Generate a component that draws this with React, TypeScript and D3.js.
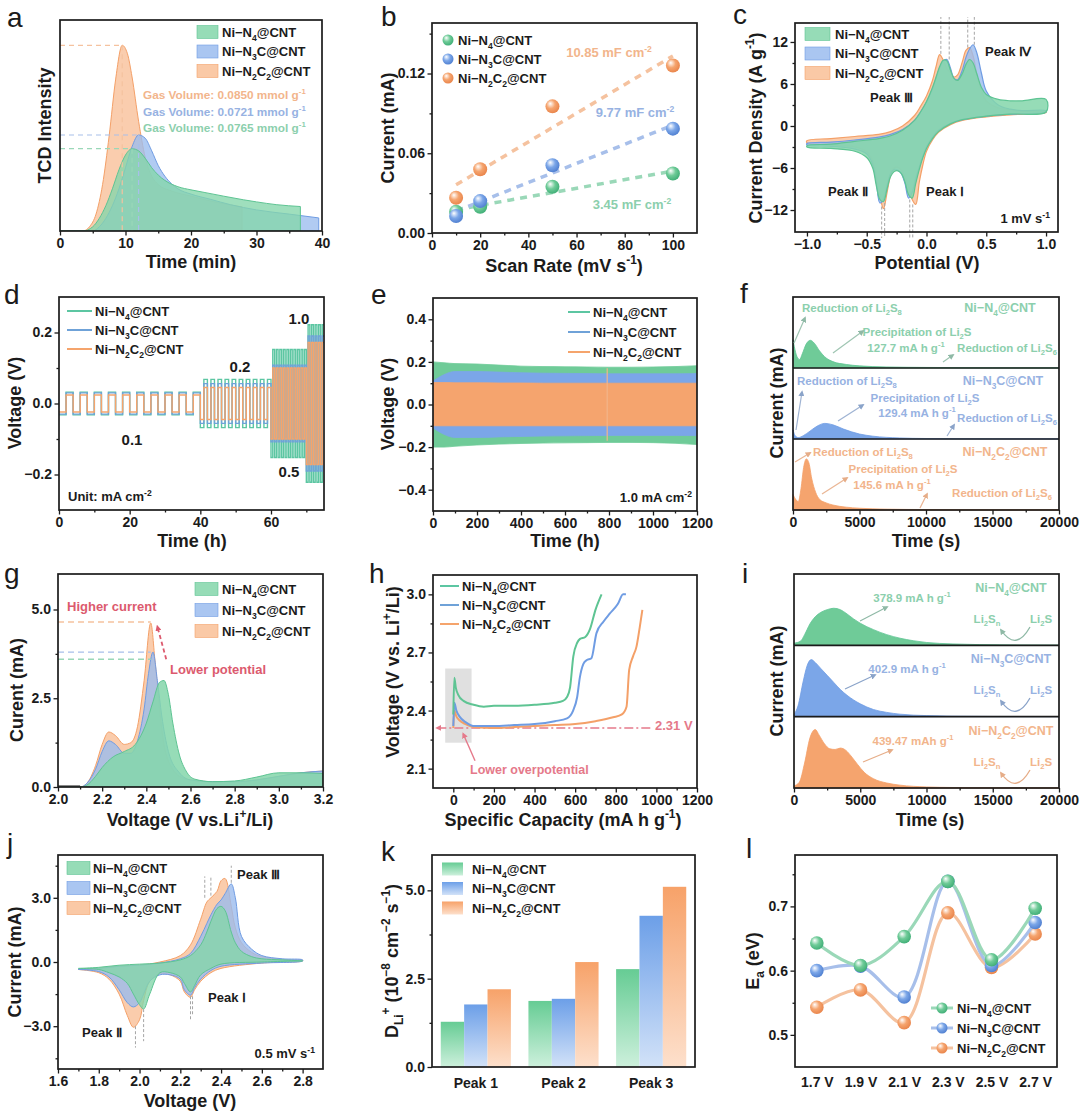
import React, { useEffect, useRef } from 'react';
import * as d3 from 'd3';

type Pt = [number, number];

const FONT = 'Arial, "Liberation Sans", Helvetica, sans-serif';
const INK = '#1b1b1b';

// ---------------- data ----------------
const seriesNames = ['Ni−N_{4}@CNT', 'Ni−N_{3}C@CNT', 'Ni−N_{2}C_{2}@CNT'];

// a: TCD signal (min, a.u.)
const aN4: Pt[] = [[0, 0], [3.5, 0], [5, 2], [6, 6], [7, 12], [8, 20], [9, 29], [10, 36], [11, 39], [12, 38], [13, 34.5], [14, 30], [15, 26.5], [16, 24], [18, 21], [20, 19.5], [22, 18.3], [25, 16.5], [28, 14.8], [30, 13.8], [33, 12.5], [36.7, 11.6]];
const aN3C: Pt[] = [[0, 0], [5, 0], [6, 2], [7, 6], [8, 12], [9, 20], [10, 30], [11, 40], [12, 45.5], [13, 44], [14, 38], [15, 31], [16, 26], [17, 22.5], [18, 20], [20, 17.5], [23, 15], [26, 12.5], [30, 10], [35, 8], [39.5, 6.2]];
const aN2C2: Pt[] = [[0, 0], [3.5, 0], [4.5, 2], [5.5, 8], [6.5, 22], [7.5, 45], [8.5, 72], [9.5, 88], [10.3, 84], [11, 73], [12, 52], [13, 35], [14, 26], [15, 22], [17, 19], [20, 16.5], [24, 13.5], [27.8, 11.4]];
const aGasVolume = ['0.0765', '0.0721', '0.0850'];

// b: current vs scan rate
const bRate = [10, 20, 50, 100];
const bN4 = [0.016, 0.0198, 0.0348, 0.0448];
const bN3C = [0.0128, 0.024, 0.051, 0.0785];
const bN2C2 = [0.0265, 0.048, 0.0953, 0.126];
const bCdl = ['3.45', '9.77', '10.85'];

// c: CV of symmetric cells (V, A g-1)
const cUpV = [-1.0, -0.8, -0.6, -0.4, -0.3, -0.2, -0.1, -0.05, 0, 0.05, 0.08, 0.11, 0.14, 0.17, 0.2, 0.23, 0.26, 0.3, 0.33, 0.36, 0.39, 0.42, 0.46, 0.5, 0.6, 0.7, 0.8, 1.0];
const cUpN4 = [-2.8, -2.6, -2.2, -1.8, -1.4, -0.6, 0.8, 2.0, 3.5, 5.5, 7.0, 8.5, 9.4, 9.3, 8.0, 6.8, 6.5, 7.5, 8.8, 9.5, 9.0, 7.5, 5.5, 4.5, 3.8, 3.6, 3.6, 3.8];
const cUpN3C = [-2.5, -2.3, -2.0, -1.6, -1.2, -0.5, 0.8, 2.0, 3.4, 5.3, 6.8, 8.3, 9.3, 9.5, 8.3, 6.8, 6.6, 8.0, 9.8, 11.0, 11.6, 10.5, 7.5, 5.0, 3.0, 2.4, 2.2, 2.2];
const cUpN2C2 = [-2.1, -1.8, -1.5, -1.2, -0.8, 0, 1.5, 2.8, 4.3, 6.5, 8.5, 10.2, 9.4, 8.2, 7.6, 7.0, 7.3, 9.2, 10.8, 11.2, 10.0, 7.5, 5.0, 3.6, 2.6, 2.3, 2.1, 2.0];
const cLoV = [-1.0, -0.8, -0.6, -0.5, -0.45, -0.42, -0.39, -0.36, -0.33, -0.3, -0.27, -0.24, -0.21, -0.18, -0.15, -0.12, -0.09, -0.06, -0.03, 0, 0.05, 0.1, 0.2, 0.3, 0.5, 0.7, 1.0];
const cLoN4 = [-3.0, -3.2, -3.6, -4.5, -6.0, -8.5, -10.5, -10.8, -9.0, -7.2, -6.5, -6.4, -6.8, -8.0, -9.8, -10.3, -8.2, -6.2, -4.5, -3.2, -1.8, -0.8, 0.3, 0.9, 1.4, 1.7, 2.0];
const cLoN3C = [-2.7, -2.9, -3.3, -4.0, -5.5, -8.0, -11.0, -10.5, -8.5, -6.8, -6.2, -6.3, -6.8, -8.2, -10.3, -9.5, -7.5, -5.8, -4.3, -3.0, -1.6, -0.6, 0.4, 0.9, 1.4, 1.7, 2.0];
const cLoN2C2 = [-2.4, -2.7, -3.0, -3.7, -5.0, -7.2, -10.0, -11.8, -9.5, -7.0, -6.0, -5.9, -6.3, -7.3, -8.8, -10.5, -11.2, -8.0, -5.5, -3.6, -2.0, -0.9, 0.2, 0.8, 1.3, 1.6, 1.9];
const cPeakMarks: Pt[] = [[0.12, 10.3], [0.19, 9.5], [0.345, 11.2], [0.4, 11.6], [-0.375, -11.5], [-0.35, -11], [-0.14, -10.5], [-0.115, -11.2]];

// d: rate test (segments)
const dCurrent = ['0.1', '0.2', '0.5', '1.0'];
const dStart = [0, 40, 60, 70];
const dEnd = [40, 60, 70, 75];
const dCycles = [10, 10, 10, 5];
const dAmpN4 = [0.032, 0.068, 0.152, 0.222];
const dAmpN3C = [0.03, 0.056, 0.108, 0.19];
const dAmpN2C2 = [0.024, 0.045, 0.1, 0.172];

// e: long cycling envelopes at 1.0 mA cm-2
const eTime = [0, 50, 100, 200, 300, 400, 500, 600, 700, 800, 900, 1000, 1100, 1200];
const eN4Hi = [0.2, 0.196, 0.192, 0.19, 0.185, 0.18, 0.178, 0.177, 0.176, 0.175, 0.175, 0.176, 0.178, 0.182];
const eN4Lo = [-0.2, -0.2, -0.196, -0.19, -0.186, -0.183, -0.181, -0.18, -0.179, -0.178, -0.178, -0.179, -0.182, -0.188];
const eN3CHi = [0.11, 0.14, 0.155, 0.155, 0.152, 0.149, 0.147, 0.146, 0.145, 0.144, 0.144, 0.144, 0.144, 0.145];
const eN3CLo = [-0.11, -0.14, -0.155, -0.155, -0.152, -0.15, -0.148, -0.147, -0.146, -0.145, -0.145, -0.145, -0.145, -0.146];
const eN2C2Hi = [0.103, 0.103, 0.102, 0.102, 0.101, 0.101, 0.1, 0.1, 0.1, 0.1, 0.1, 0.1, 0.1, 0.1];
const eN2C2Lo = [-0.1, -0.1, -0.1, -0.1, -0.1, -0.1, -0.1, -0.1, -0.1, -0.1, -0.1, -0.1, -0.1, -0.1];

// f: Li2S deposition (s, normalised within each strip)
const fN4: Pt[] = [[0, 0.4], [100, 0.3], [300, 0.16], [500, 0.12], [700, 0.2], [1000, 0.34], [1300, 0.39], [1600, 0.35], [2000, 0.24], [2500, 0.14], [3000, 0.09], [4000, 0.05], [5000, 0.03], [7000, 0.015], [10000, 0.008], [15000, 0.003], [20000, 0.002]];
const fN3C: Pt[] = [[0, 0.13], [150, 0.05], [400, 0.02], [800, 0.05], [1200, 0.1], [1800, 0.18], [2400, 0.22], [3000, 0.2], [3800, 0.14], [5000, 0.07], [6000, 0.04], [8000, 0.015], [10000, 0.007], [15000, 0.003], [20000, 0.002]];
const fN2C2: Pt[] = [[0, 0.22], [200, 0.15], [400, 0.12], [600, 0.3], [800, 0.6], [1000, 0.72], [1200, 0.66], [1400, 0.45], [1700, 0.25], [2000, 0.15], [2500, 0.1], [3000, 0.07], [4000, 0.04], [5000, 0.025], [7000, 0.012], [10000, 0.006], [15000, 0.003], [20000, 0.002]];
const fCapacity = ['127.7', '129.4', '145.6'];

// g: oxidation current vs voltage
const gN4: Pt[] = [[2.0, 0], [2.1, 0], [2.13, 0.05], [2.17, 0.3], [2.2, 0.55], [2.25, 0.85], [2.3, 1.0], [2.35, 1.2], [2.4, 1.8], [2.43, 2.4], [2.46, 2.95], [2.48, 3.0], [2.5, 2.6], [2.52, 1.8], [2.55, 0.9], [2.58, 0.45], [2.62, 0.22], [2.7, 0.15], [2.8, 0.17], [2.9, 0.28], [3.0, 0.4], [3.1, 0.4], [3.2, 0.38]];
const gN3C: Pt[] = [[2.0, 0], [2.1, 0], [2.13, 0.1], [2.17, 0.5], [2.2, 1.0], [2.23, 1.3], [2.26, 1.2], [2.3, 0.95], [2.33, 0.95], [2.36, 1.3], [2.39, 2.2], [2.41, 3.2], [2.43, 3.8], [2.45, 3.0], [2.47, 2.0], [2.5, 1.0], [2.55, 0.4], [2.6, 0.2], [2.7, 0.15], [2.8, 0.15], [2.9, 0.2], [3.0, 0.3], [3.1, 0.4], [3.2, 0.45]];
const gN2C2: Pt[] = [[2.0, 0], [2.1, 0], [2.13, 0.1], [2.17, 0.6], [2.2, 1.2], [2.23, 1.55], [2.26, 1.45], [2.3, 1.2], [2.33, 1.25], [2.36, 1.7], [2.39, 3.0], [2.42, 4.62], [2.44, 3.5], [2.46, 2.2], [2.48, 1.2], [2.52, 0.5], [2.55, 0.3], [2.6, 0.2], [2.7, 0.15], [2.8, 0.15], [2.9, 0.2], [3.0, 0.3], [3.1, 0.4], [3.2, 0.45]];
const gDashLevels = [3.6, 3.8, 4.65];

// h: charge profiles
const hN4: Pt[] = [[0, 2.38], [5, 2.57], [12, 2.52], [25, 2.48], [50, 2.45], [100, 2.43], [150, 2.42], [200, 2.425], [300, 2.425], [400, 2.43], [500, 2.44], [540, 2.45], [560, 2.47], [575, 2.52], [591, 2.68], [610, 2.75], [624, 2.77], [650, 2.78], [673, 2.82], [700, 2.92], [730, 3.0]];
const hN3C: Pt[] = [[0, 2.32], [5, 2.44], [15, 2.4], [30, 2.37], [60, 2.34], [100, 2.32], [200, 2.32], [300, 2.325], [400, 2.33], [500, 2.345], [560, 2.36], [590, 2.4], [610, 2.47], [623, 2.57], [640, 2.64], [656, 2.66], [680, 2.67], [705, 2.8], [740, 2.86], [770, 2.9], [810, 2.95], [836, 3.0], [850, 3.0]];
const hN2C2: Pt[] = [[0, 2.31], [5, 2.4], [15, 2.37], [30, 2.35], [60, 2.33], [100, 2.315], [200, 2.31], [300, 2.315], [400, 2.32], [500, 2.325], [600, 2.33], [700, 2.345], [787, 2.365], [830, 2.38], [853, 2.42], [866, 2.61], [885, 2.68], [902, 2.73], [918, 2.83], [931, 2.92]];
const hPlateau = 2.31;

// i: Li2S dissolution (s, normalised within each strip)
const iN4: Pt[] = [[0, 0.03], [500, 0.06], [800, 0.15], [1200, 0.3], [1600, 0.4], [2000, 0.46], [2500, 0.5], [3000, 0.52], [3500, 0.5], [4000, 0.44], [4500, 0.37], [5000, 0.31], [6000, 0.22], [7000, 0.15], [8000, 0.1], [9000, 0.065], [10000, 0.04], [12000, 0.02], [14000, 0.01], [17000, 0.004], [20000, 0.002]];
const iN3C: Pt[] = [[0, 0.03], [300, 0.15], [700, 0.5], [1000, 0.72], [1300, 0.8], [1600, 0.76], [2000, 0.68], [2500, 0.58], [3000, 0.48], [3500, 0.38], [4000, 0.3], [5000, 0.18], [6000, 0.1], [7000, 0.06], [8000, 0.035], [10000, 0.015], [12000, 0.007], [15000, 0.003], [20000, 0.002]];
const iN2C2: Pt[] = [[0, 0.03], [400, 0.08], [800, 0.35], [1200, 0.7], [1600, 0.82], [1900, 0.74], [2300, 0.62], [2700, 0.55], [3100, 0.54], [3500, 0.56], [3900, 0.53], [4300, 0.45], [4800, 0.33], [5300, 0.22], [6000, 0.13], [7000, 0.07], [8000, 0.04], [10000, 0.015], [12000, 0.007], [15000, 0.003], [20000, 0.002]];
const iCapacity = ['378.9 mA h', '402.9 mA h', '439.47 mAh'];

// j: CV of Li-S cells at 0.5 mV s-1
const jUpV = [1.7, 1.8, 1.9, 2.0, 2.1, 2.2, 2.25, 2.3, 2.33, 2.35, 2.38, 2.4, 2.42, 2.45, 2.47, 2.5, 2.55, 2.6, 2.7, 2.8];
const jUpN4 = [-0.3, -0.25, -0.15, -0.1, -0.05, 0.1, 0.3, 0.8, 1.4, 1.9, 2.5, 2.6, 2.4, 1.4, 0.9, 0.5, 0.25, 0.15, 0.1, 0.05];
const jUpN3C = [-0.35, -0.3, -0.2, -0.15, -0.05, 0.15, 0.4, 1.2, 1.8, 2.2, 2.7, 2.9, 3.2, 3.65, 3.0, 1.2, 0.6, 0.3, 0.15, 0.1];
const jUpN2C2 = [-0.35, -0.3, -0.2, -0.15, 0, 0.3, 0.8, 2.0, 2.8, 3.0, 3.3, 3.8, 3.9, 2.6, 1.6, 0.9, 0.45, 0.25, 0.12, 0.08];
const jLoV = [1.7, 1.8, 1.85, 1.9, 1.94, 1.97, 2.0, 2.02, 2.05, 2.1, 2.15, 2.2, 2.22, 2.25, 2.27, 2.3, 2.35, 2.4, 2.6, 2.8];
const jLoN4 = [-0.3, -0.35, -0.5, -0.7, -1.0, -1.5, -2.0, -2.2, -1.5, -0.5, -0.5, -0.7, -1.0, -1.4, -1.1, -0.6, -0.3, -0.1, 0, 0.05];
const jLoN3C = [-0.35, -0.45, -0.7, -1.3, -1.9, -2.1, -1.9, -1.5, -0.9, -0.6, -0.6, -0.8, -1.3, -1.55, -1.2, -0.8, -0.4, -0.2, -0.05, 0.05];
const jLoN2C2 = [-0.35, -0.5, -0.8, -1.5, -2.5, -3.05, -2.7, -1.8, -0.9, -0.55, -0.6, -0.9, -1.4, -1.65, -1.3, -0.9, -0.5, -0.3, -0.05, 0.05];
const jPeakMarks: [number, number, number][] = [[2.45, 3.7, 4.5], [2.32, 3.0, 4.0], [2.35, 3.1, 4.0], [2.25, -1.6, -2.7], [2.26, -1.6, -2.5], [1.98, -3.0, -4.0], [2.02, -2.2, -3.7]];

// k: Li+ diffusion coefficients
const kPeaks = ['Peak 1', 'Peak 2', 'Peak 3'];
const kN4 = [1.28, 1.87, 2.77];
const kN3C = [1.77, 1.93, 4.28];
const kN2C2 = [2.2, 2.97, 5.1];

// l: activation energy
const lVoltage = ['1.7 V', '1.9 V', '2.1 V', '2.3 V', '2.5 V', '2.7 V'];
const lN4 = [0.643, 0.608, 0.653, 0.739, 0.617, 0.697];
const lN3C = [0.6, 0.607, 0.559, 0.739, 0.608, 0.675];
const lN2C2 = [0.543, 0.57, 0.519, 0.69, 0.605, 0.657];

// ---------------- styling ----------------
const COL = [
  { fill: '#84d6aa', line: '#5ec493', solid: '#6fcb98', text: '#8ccfad', dash: '#9ad8b8', deep: '#3fae76', top: '#66cc94', bot: '#cdf0dc', wave: '#5cc6a2' },
  { fill: '#9bbcee', line: '#6f9ce3', solid: '#7ba6e8', text: '#97b2e2', dash: '#a7bfea', deep: '#4f7fd0', top: '#6c9fe8', bot: '#d2e2f8', wave: '#6fa2d8' },
  { fill: '#f9bf97', line: '#f4a068', solid: '#f5a46e', text: '#f2b58c', dash: '#f5c29f', deep: '#e9844a', top: '#f7a269', bot: '#fde0cc', wave: '#f5a46c' },
];
const RED = '#dc5a6e';
const PINK = '#e5798a';

// ---------------- helpers ----------------
function fit(xs: number[], ys: number[]): [number, number] {
  const mx = d3.mean(xs)!, my = d3.mean(ys)!;
  const sxy = d3.sum(xs, (v, i) => (v - mx) * (ys[i] - my));
  const sxx = d3.sum(xs, v => (v - mx) * (v - mx));
  const m = sxy / sxx;
  return [m, my - m * mx];
}
const zip = (xs: number[], ys: number[]): Pt[] => xs.map((v, i) => [v, ys[i]] as Pt);

function Rich({ s, fs }: { s: string; fs: number }) {
  const parts = s.split(/(_\{[^}]*\}|\^\{[^}]*\})/).filter(p => p !== '');
  let shift = 0;
  return (
    <>
      {parts.map((p, i) => {
        let target = 0;
        let text = p;
        let size: number | undefined;
        if (p.startsWith('_{')) { target = fs * 0.3; text = p.slice(2, -1); size = fs * 0.66; }
        else if (p.startsWith('^{')) { target = -fs * 0.42; text = p.slice(2, -1); size = fs * 0.66; }
        const dy = target - shift;
        shift = target;
        return <tspan key={i} dy={dy} fontSize={size}>{text}</tspan>;
      })}
    </>
  );
}

function Txt({ x, y, s, fs = 13, fill = INK, anchor = 'start', bold = true, rot = false }: { x: number; y: number; s: string; fs?: number; fill?: string; anchor?: string; bold?: boolean; rot?: boolean }) {
  return (
    <text x={rot ? 0 : x} y={rot ? 0 : y} transform={rot ? `translate(${x},${y}) rotate(-90)` : undefined}
      fontSize={fs} fontWeight={bold ? 'bold' : 'normal'} fill={fill} textAnchor={anchor as any} fontFamily={FONT}>
      <Rich s={s} fs={fs} />
    </text>
  );
}

function Axis({ scale, orient, x, y, ticks, minor, fmt, size = 4.5, pad = 2.5 }: { scale: any; orient: 'bottom' | 'left'; x: number; y: number; ticks?: any[]; minor?: number[]; fmt?: (d: any) => string; size?: number; pad?: number }) {
  const ref = useRef<SVGGElement>(null);
  useEffect(() => {
    const g = d3.select(ref.current!);
    g.selectAll('*').remove();
    const mk = orient === 'bottom' ? d3.axisBottom : d3.axisLeft;
    if (minor) {
      g.append('g').call(mk(scale).tickValues(minor).tickSizeInner(2.5).tickSizeOuter(0).tickFormat(() => '') as any)
        .call(s => s.select('.domain').remove());
    }
    const ax = mk(scale).tickSizeInner(size).tickSizeOuter(0).tickPadding(pad);
    if (ticks) ax.tickValues(ticks);
    if (fmt) ax.tickFormat(fmt as any);
    g.append('g').call(ax as any).call(s => s.select('.domain').remove());
    g.selectAll('line').attr('stroke', INK).attr('stroke-width', 1.3);
    g.selectAll('text').attr('font-family', FONT).attr('font-size', 14).attr('font-weight', 'bold').attr('fill', INK);
  });
  return <g ref={ref} transform={`translate(${x},${y})`} />;
}

function Frame({ b }: { b: number[] }) {
  return <rect x={b[0]} y={b[2]} width={b[1] - b[0]} height={b[3] - b[2]} fill="none" stroke={INK} strokeWidth={1.7} />;
}

function Letter({ x, y, s }: { x: number; y: number; s: string }) {
  return <text x={x} y={y} fontSize={28} fontFamily={FONT} fill={INK}>{s}</text>;
}

function Legend({ x, y, dy, kind, tx, w = 22 }: { x: number; y: number; dy: number; kind: 'patch' | 'line' | 'sphere' | 'lsphere' | 'bar'; tx: number; w?: number }) {
  return (
    <g>
      {seriesNames.map((n, i) => {
        const cy = y + i * dy;
        const c = COL[i];
        return (
          <g key={i}>
            {kind === 'patch' && <rect x={x} y={cy - 6.5} width={w} height={13} fill={c.fill} fillOpacity={0.85} stroke={c.line} strokeWidth={0.6} />}
            {kind === 'bar' && <rect x={x} y={cy - 6.5} width={w} height={13} fill={`url(#bar-${i})`} />}
            {kind === 'line' && <line x1={x} x2={x + w} y1={cy} y2={cy} stroke={c.wave} strokeWidth={2} />}
            {kind === 'sphere' && <circle cx={x} cy={cy} r={5.5} fill={`url(#sph-${i})`} />}
            {kind === 'lsphere' && <g><line x1={x} x2={x + w} y1={cy} y2={cy} stroke={c.dash} strokeWidth={3} /><circle cx={x + w / 2} cy={cy} r={5.5} fill={`url(#sph-${i})`} /></g>}
            <Txt x={tx} y={cy + 4.6} s={n} fs={13} />
          </g>
        );
      })}
    </g>
  );
}

function Arrow({ x1, y1, x2, y2, color, id, dash, w = 1.2 }: { x1: number; y1: number; x2: number; y2: number; color: string; id: string; dash?: string; w?: number }) {
  return <line x1={x1} y1={y1} x2={x2} y2={y2} stroke={color} strokeWidth={w} strokeDasharray={dash} markerEnd={`url(#${id})`} />;
}

function Defs() {
  const boxes: Record<string, number[]> = { c: [795, 1058, 23, 232], j: [58, 323, 855, 1069], a: [60, 322, 20, 231], g: [58, 323, 574, 787], d: [59, 324, 297, 510], e: [433, 697, 298, 511], h: [433, 697, 575, 788], l: [795, 1057, 855, 1067] };
  const heads: [string, string][] = [['ah-red', RED], ['ah-pink', PINK], ['ah-gray0', '#8fb9a6'], ['ah-gray1', '#8aa3c9'], ['ah-gray2', '#e6ad88']];
  return (
    <defs>
      {Object.entries(boxes).map(([k, b]) => (
        <clipPath key={k} id={`clip-${k}`}><rect x={b[0]} y={b[2]} width={b[1] - b[0]} height={b[3] - b[2]} /></clipPath>
      ))}
      {COL.map((c, i) => (
        <radialGradient key={'s' + i} id={`sph-${i}`} cx="0.42" cy="0.4" r="0.62" fx="0.34" fy="0.3">
          <stop offset="0" stopColor="#ffffff" />
          <stop offset="0.5" stopColor={c.solid} />
          <stop offset="1" stopColor={c.deep} />
        </radialGradient>
      ))}
      {COL.map((c, i) => (
        <linearGradient key={'b' + i} id={`bar-${i}`} x1="0" y1="0" x2="0" y2="1">
          <stop offset="0" stopColor={c.top} />
          <stop offset="1" stopColor={c.bot} />
        </linearGradient>
      ))}
      {heads.map(([id, col]) => (
        <marker key={id} id={id} viewBox="0 0 10 10" refX="7" refY="5" markerWidth="6" markerHeight="6" orient="auto-start-reverse" markerUnits="userSpaceOnUse">
          <path d="M0,0 L10,5 L0,10 z" fill={col} />
        </marker>
      ))}
    </defs>
  );
}

const f1 = d3.format('.1f');
const f2 = d3.format('.2f');
const fInt = d3.format('d');

// ---------------- panels ----------------
function PanelA() {
  const b = [60, 322, 20, 231];
  const x = d3.scaleLinear().domain([0, 40]).range([b[0], b[1]]);
  const y = d3.scaleLinear().domain([0, 100]).range([b[3], b[2]]);
  const area = d3.area<Pt>().x(d => x(d[0])).y0(y(0)).y1(d => y(d[1])).curve(d3.curveMonotoneX);
  const sets = [aN4, aN3C, aN2C2];
  const drawOrder = [2, 1, 0];
  return (
    <g>
      <g clipPath="url(#clip-a)">
        {drawOrder.map(i => <path key={i} d={area(sets[i])!} fill={COL[i].fill} fillOpacity={0.78} stroke={COL[i].line} strokeWidth={1} />)}
        {sets.map((s, i) => {
          const pk = d3.greatest(s, d => d[1])!;
          return (
            <g key={i} stroke={COL[i].dash} strokeWidth={1.2} strokeDasharray="5 4">
              <line x1={x(0)} x2={x(pk[0])} y1={y(pk[1])} y2={y(pk[1])} />
              <line x1={x(pk[0])} x2={x(pk[0])} y1={y(pk[1])} y2={y(0)} />
            </g>
          );
        })}
      </g>
      <Frame b={b} />
      <Axis scale={x} orient="bottom" x={0} y={b[3]} ticks={[0, 10, 20, 30, 40]} minor={[5, 15, 25, 35]} />
      <Legend x={197} y={32} dy={19.5} kind="patch" tx={222} w={21} />
      {[2, 1, 0].map((i, k) => (
        <Txt key={i} x={143} y={99 + k * 16.5} s={`Gas Volume: ${aGasVolume[i]} mmol g^{-1}`} fs={11.8} fill={COL[i].text} />
      ))}
      <Txt x={(b[0] + b[1]) / 2} y={268} s="Time (min)" fs={18} anchor="middle" />
      <Txt x={51} y={(b[2] + b[3]) / 2} s="TCD Intensity" fs={18} anchor="middle" rot />
      <Letter x={7} y={27} s="a" />
    </g>
  );
}

function PanelB() {
  const b = [432, 697, 23, 233];
  const x = d3.scaleLinear().domain([0, 110]).range([b[0], b[1]]);
  const y = d3.scaleLinear().domain([0, 0.158]).range([b[3], b[2]]);
  const sets = [bN4, bN3C, bN2C2];
  const lx = [bRate[0], bRate[bRate.length - 1]];
  const labelPos = [[632, 209], [635, 117], [609, 57]];
  return (
    <g>
      {sets.map((ys, i) => {
        const [m, c] = fit(bRate, ys);
        return <line key={i} x1={x(lx[0])} y1={y(m * lx[0] + c)} x2={x(lx[1])} y2={y(m * lx[1] + c)} stroke={COL[i].dash} strokeWidth={3.5} strokeDasharray="7 6" />;
      })}
      {sets.map((ys, i) => ys.map((v, k) => <circle key={i + '-' + k} cx={x(bRate[k])} cy={y(v)} r={7} fill={`url(#sph-${i})`} />))}
      {labelPos.map((p, i) => <Txt key={i} x={p[0]} y={p[1]} s={`${bCdl[i]} mF cm^{-2}`} fs={13} fill={COL[i].text} anchor="middle" />)}
      <Frame b={b} />
      <Axis scale={x} orient="bottom" x={0} y={b[3]} ticks={[0, 20, 40, 60, 80, 100]} minor={[10, 30, 50, 70, 90]} />
      <Axis scale={y} orient="left" x={b[0]} y={0} ticks={[0, 0.06, 0.12]} minor={[0.03, 0.09, 0.15]} fmt={f2} />
      <Legend x={448} y={40} dy={19} kind="sphere" tx={458} />
      <Txt x={564} y={272} s="Scan Rate (mV s^{-1})" fs={18} anchor="middle" />
      <Txt x={394} y={128} s="Current (mA)" fs={18} anchor="middle" rot />
      <Letter x={381} y={26} s="b" />
    </g>
  );
}

function PanelC() {
  const b = [795, 1058, 23, 232];
  const x = d3.scaleLinear().domain([-1.1, 1.1]).range([b[0], b[1]]);
  const y = d3.scaleLinear().domain([-15.14, 14.71]).range([b[3], b[2]]);
  const loop = d3.line<Pt>().x(d => x(d[0])).y(d => y(d[1])).curve(d3.curveCatmullRomClosed.alpha(0.5));
  const ups = [cUpN4, cUpN3C, cUpN2C2];
  const los = [cLoN4, cLoN3C, cLoN2C2];
  const pts = (i: number) => [...zip(cUpV, ups[i]), ...zip(cLoV, los[i]).reverse()];
  return (
    <g>
      <g clipPath="url(#clip-c)">
        {[2, 1, 0].map(i => <path key={i} d={loop(pts(i))!} fill={COL[i].fill} fillOpacity={i === 0 ? 0.85 : 0.8} stroke={COL[i].line} strokeWidth={1.2} />)}
      </g>
      {cPeakMarks.map((m, k) => (
        <line key={k} x1={x(m[0])} x2={x(m[0])} y1={y(m[1])} y2={m[1] > 0 ? b[2] - 6 : b[3] + 6} stroke="#a5a5a5" strokeWidth={1} strokeDasharray="3 2" />
      ))}
      <Frame b={b} />
      <Axis scale={x} orient="bottom" x={0} y={b[3]} ticks={[-1, -0.5, 0, 0.5, 1]} minor={[-0.75, -0.25, 0.25, 0.75]} fmt={f1} />
      <Axis scale={y} orient="left" x={b[0]} y={0} ticks={[-12, -6, 0, 6, 12]} minor={[-9, -3, 3, 9]} />
      <Legend x={805} y={34} dy={19.5} kind="patch" tx={835} w={25} />
      <Txt x={985} y={56} s="Peak Ⅳ" fs={13} />
      <Txt x={870} y={102} s="Peak Ⅲ" fs={13} />
      <Txt x={828} y={196} s="Peak Ⅱ" fs={13} />
      <Txt x={926} y={196} s="Peak Ⅰ" fs={13} />
      <Txt x={1050} y={223} s="1 mV s^{-1}" fs={13} anchor="end" />
      <Txt x={927} y={269} s="Potential (V)" fs={18} anchor="middle" />
      <Txt x={762} y={128} s="Current Density (A g^{-1})" fs={18} anchor="middle" rot />
      <Letter x={733} y={24} s="c" />
    </g>
  );
}

function PanelD() {
  const b = [59, 324, 297, 510];
  const x = d3.scaleLinear().domain([0, 75]).range([b[0], b[1]]);
  const y = d3.scaleLinear().domain([-0.3, 0.3]).range([b[3], b[2]]);
  const wave = (amps: number[]): Pt[] => {
    const pts: Pt[] = [];
    dStart.forEach((t0, s) => {
      const P = (dEnd[s] - t0) / dCycles[s];
      for (let k = 0; k < dCycles[s]; k++) {
        const t = t0 + k * P;
        pts.push([t, -amps[s]], [t + P / 2, -amps[s]], [t + P / 2, amps[s]], [t + P, amps[s]]);
      }
    });
    return pts;
  };
  const line = d3.line<Pt>().x(d => x(d[0])).y(d => y(d[1]));
  const sets = [dAmpN4, dAmpN3C, dAmpN2C2];
  const labels = [[132, 445], [240, 372], [289, 477], [299, 324]];
  return (
    <g>
      <g clipPath="url(#clip-d)">
        {sets.map((a, i) => <path key={i} d={line(wave(a))!} fill="none" stroke={COL[i].wave} strokeWidth={1.4} />)}
      </g>
      <Frame b={b} />
      <Axis scale={x} orient="bottom" x={0} y={b[3]} ticks={[0, 20, 40, 60]} minor={[10, 30, 50, 70]} />
      <Axis scale={y} orient="left" x={b[0]} y={0} ticks={[-0.2, 0, 0.2]} minor={[-0.1, 0.1]} fmt={f1} />
      <Legend x={67} y={311} dy={19} kind="line" tx={95} w={25} />
      {labels.map((p, i) => <Txt key={i} x={p[0]} y={p[1]} s={dCurrent[i]} fs={15} anchor="middle" />)}
      <Txt x={68} y={501} s="Unit: mA cm^{-2}" fs={13} />
      <Txt x={192} y={547} s="Time (h)" fs={18} anchor="middle" />
      <Txt x={21} y={403} s="Voltage (V)" fs={18} anchor="middle" rot />
      <Letter x={4} y={304} s="d" />
    </g>
  );
}

function PanelE() {
  const b = [433, 697, 298, 511];
  const x = d3.scaleLinear().domain([0, 1200]).range([b[0], b[1]]);
  const y = d3.scaleLinear().domain([-0.5, 0.5]).range([b[3], b[2]]);
  const band = (hi: number[], lo: number[]) =>
    d3.area<number>().x((_d, i) => x(eTime[i])).y0((_d, i) => y(lo[i])).y1(d => y(d)).curve(d3.curveMonotoneX)(hi)!;
  const bands = [[eN4Hi, eN4Lo], [eN3CHi, eN3CLo], [eN2C2Hi, eN2C2Lo]];
  return (
    <g>
      <g clipPath="url(#clip-e)">
        {bands.map((bb, i) => <path key={i} d={band(bb[0], bb[1])} fill={COL[i].solid} stroke={COL[i].solid} strokeWidth={0.8} />)}
        <line x1={x(792)} x2={x(792)} y1={y(0.17)} y2={y(-0.17)} stroke="#f3b48a" strokeWidth={1.5} strokeOpacity={0.8} />
      </g>
      <Frame b={b} />
      <Axis scale={x} orient="bottom" x={0} y={b[3]} ticks={d3.range(0, 1201, 200)} minor={d3.range(100, 1200, 200)} fmt={fInt} />
      <Axis scale={y} orient="left" x={b[0]} y={0} ticks={[-0.4, -0.2, 0, 0.2, 0.4]} minor={[-0.3, -0.1, 0.1, 0.3]} fmt={f1} />
      <Legend x={568} y={312} dy={20} kind="line" tx={593} w={22} />
      <Txt x={692} y={502} s="1.0 mA cm^{-2}" fs={13} anchor="end" />
      <Txt x={565} y={547} s="Time (h)" fs={18} anchor="middle" />
      <Txt x={394} y={404} s="Voltage (V)" fs={18} anchor="middle" rot />
      <Letter x={371} y={304} s="e" />
    </g>
  );
}

function Stacked({ b, sets, children }: { b: number[]; sets: Pt[][]; children?: any }) {
  const x = d3.scaleLinear().domain([0, 20000]).range([b[0], b[1]]);
  const strip = d3.scaleBand<number>().domain([0, 1, 2]).range([b[2], b[3]]);
  return (
    <g>
      {sets.map((s, i) => {
        const top = strip(i)!;
        const y = d3.scaleLinear().domain([0, 1]).range([top + strip.bandwidth(), top]);
        const area = d3.area<Pt>().x(d => x(d[0])).y0(y(0)).y1(d => y(d[1])).curve(d3.curveMonotoneX);
        return <path key={i} d={area(s)!} fill={COL[i].solid} stroke={COL[i].line} strokeWidth={0.8} />;
      })}
      {[1, 2].map(i => <line key={i} x1={b[0]} x2={b[1]} y1={strip(i)!} y2={strip(i)!} stroke={INK} strokeWidth={1.6} />)}
      <Frame b={b} />
      <Axis scale={x} orient="bottom" x={0} y={b[3]} ticks={[0, 5000, 10000, 15000, 20000]} minor={[2500, 7500, 12500, 17500]} fmt={fInt} />
      {children}
    </g>
  );
}

function PanelF() {
  const b = [793, 1059, 297, 510];
  const notes = [
    { r8: [802, 312], nm: [1000, 312], pr: [917, 336], cap: [906, 352], r6: [1007, 352], a1: [794, 343, 805, 318], a2: [833, 353, 863, 331], a3: [943, 362, 953, 355] },
    { r8: [797, 385], nm: [1003, 385], pr: [925, 402], cap: [917, 417], r6: [1007, 422], a1: [796, 430, 802, 392], a2: [838, 421, 863, 405], a3: [947, 436, 954, 425] },
    { r8: [813, 456], nm: [1005, 456], pr: [903, 473], cap: [892, 489], r6: [1002, 497], a1: [795, 462, 810, 453], a2: [822, 494, 847, 478], a3: [920, 508, 927, 494] },
  ];
  return (
    <g>
      <Stacked b={b} sets={[fN4, fN3C, fN2C2]}>
        {notes.map((n, i) => {
          const c = COL[i].text;
          return (
            <g key={i}>
              <Txt x={n.r8[0]} y={n.r8[1]} s="Reduction of Li_{2}S_{8}" fs={11.5} fill={c} />
              <Txt x={n.nm[0]} y={n.nm[1]} s={seriesNames[i]} fs={12.5} fill={c} anchor="middle" />
              <Txt x={n.pr[0]} y={n.pr[1]} s="Precipitation of Li_{2}S" fs={11.5} fill={c} anchor="middle" />
              <Txt x={n.cap[0]} y={n.cap[1]} s={`${fCapacity[i]} mA h g^{-1}`} fs={11.5} fill={c} anchor="middle" />
              <Txt x={n.r6[0]} y={n.r6[1]} s="Reduction of Li_{2}S_{6}" fs={11.5} fill={c} anchor="middle" />
              {[n.a1, n.a2, n.a3].map((a, k) => <Arrow key={k} x1={a[0]} y1={a[1]} x2={a[2]} y2={a[3]} color={['#9fc5b2', '#9fb3d3', '#eab695'][i]} id={`ah-gray${i}`} />)}
            </g>
          );
        })}
      </Stacked>
      <Txt x={926} y={547} s="Time (s)" fs={18} anchor="middle" />
      <Txt x={783} y={403} s="Current (mA)" fs={18} anchor="middle" rot />
      <Letter x={740} y={303} s="f" />
    </g>
  );
}

function PanelG() {
  const b = [58, 323, 574, 787];
  const x = d3.scaleLinear().domain([2.0, 3.2]).range([b[0], b[1]]);
  const y = d3.scaleLinear().domain([0, 6]).range([b[3], b[2]]);
  const area = d3.area<Pt>().x(d => x(d[0])).y0(y(0)).y1(d => y(d[1])).curve(d3.curveMonotoneX);
  const sets = [gN4, gN3C, gN2C2];
  const peakX = d3.greatest(gN2C2, d => d[1])![0];
  return (
    <g>
      <g clipPath="url(#clip-g)">
        {[2, 1, 0].map(i => <path key={i} d={area(sets[i])!} fill={COL[i].fill} fillOpacity={i === 0 ? 0.85 : 0.8} stroke={COL[i].line} strokeWidth={1} />)}
        {gDashLevels.map((v, i) => <line key={i} x1={x(2.0)} x2={x(peakX)} y1={y(v)} y2={y(v)} stroke={COL[i].dash} strokeWidth={1.4} strokeDasharray="6 4" />)}
        <line x1={x(2.0)} x2={x(2.1)} y1={y(0) - 1} y2={y(0) - 1} stroke="#555" strokeWidth={1.4} />
      </g>
      <Arrow x1={x(2.49)} y1={y(3.6)} x2={x(2.45)} y2={y(4.52)} color={RED} id="ah-red" dash="4 3" w={1.8} />
      <Frame b={b} />
      <Axis scale={x} orient="bottom" x={0} y={b[3]} ticks={d3.range(2.0, 3.21, 0.2)} minor={d3.range(2.1, 3.2, 0.2)} fmt={f1} />
      <Axis scale={y} orient="left" x={b[0]} y={0} ticks={[0, 2.5, 5]} minor={[1.25, 3.75]} fmt={f1} />
      <Legend x={195} y={589} dy={21} kind="patch" tx={222} w={23} />
      <Txt x={67} y={611} s="Higher current" fs={13} fill={RED} />
      <Txt x={170} y={674} s="Lower potential" fs={13} fill={RED} />
      <Txt x={190} y={826} s="Voltage (V vs.Li^{+}/Li)" fs={18} anchor="middle" />
      <Txt x={23} y={690} s="Curent (mA)" fs={18} anchor="middle" rot />
      <Letter x={4} y={583} s="g" />
    </g>
  );
}

function PanelH() {
  const b = [433, 697, 575, 788];
  const x = d3.scaleLinear().domain([-100, 1200]).range([b[0], b[1]]);
  const y = d3.scaleLinear().domain([2.0, 3.1]).range([b[3], b[2]]);
  const line = d3.line<Pt>().x(d => x(d[0])).y(d => y(d[1])).curve(d3.curveMonotoneX);
  const sets = [hN4, hN3C, hN2C2];
  return (
    <g>
      <rect x={x(-40)} y={y(2.617)} width={x(90) - x(-40)} height={y(2.234) - y(2.617)} fill="#d6d6d6" fillOpacity={0.75} />
      <g clipPath="url(#clip-h)">
        <line x1={x(970)} x2={b[0] + 4} y1={y(hPlateau)} y2={y(hPlateau)} stroke={PINK} strokeWidth={1.4} strokeDasharray="9 3 2 3" markerEnd="url(#ah-pink)" />
        {[2, 1, 0].map(i => <path key={i} d={line(sets[i])!} fill="none" stroke={COL[i].line} strokeWidth={2} />)}
      </g>
      <Arrow x1={x(107)} y1={y(2.141)} x2={x(49)} y2={y(2.279)} color={PINK} id="ah-pink" w={1.4} />
      <Txt x={655} y={730} s={`${hPlateau} V`} fs={13} fill={PINK} />
      <Txt x={470} y={774} s="Lower overpotential" fs={12.5} fill={PINK} />
      <Frame b={b} />
      <Axis scale={x} orient="bottom" x={0} y={b[3]} ticks={d3.range(0, 1201, 200)} minor={d3.range(100, 1200, 200)} fmt={fInt} />
      <Axis scale={y} orient="left" x={b[0]} y={0} ticks={[2.1, 2.4, 2.7, 3.0]} minor={[2.25, 2.55, 2.85]} fmt={f1} />
      <Legend x={440} y={586} dy={19} kind="line" tx={462} w={19} />
      <Txt x={563} y={826} s="Specific Capacity (mA h g^{-1})" fs={18} anchor="middle" />
      <Txt x={399} y={672} s="Voltage (V vs. Li^{+}/Li)" fs={18} anchor="middle" rot />
      <Letter x={369} y={583} s="h" />
    </g>
  );
}

function PanelI() {
  const b = [794, 1059, 574, 788];
  const tops = [574, 645, 717];
  const capX = [912, 907, 913];
  const arr = [[860, 621, 887, 607], [845, 689, 875, 675], [863, 762, 892, 750]];
  const arcColor = ['#8fb9a6', '#8aa3c9', '#e6ad88'];
  return (
    <g>
      <Stacked b={b} sets={[iN4, iN3C, iN2C2]}>
        {tops.map((t, i) => {
          const c = COL[i].text;
          return (
            <g key={i}>
              <Txt x={1011} y={t + 18} s={seriesNames[i]} fs={12.5} fill={c} anchor="middle" />
              <Txt x={capX[i]} y={t + 28} s={`${iCapacity[i]} g^{-1}`} fs={11.5} fill={c} anchor="middle" />
              <Arrow x1={arr[i][0]} y1={arr[i][1]} x2={arr[i][2]} y2={arr[i][3]} color={arcColor[i]} id={`ah-gray${i}`} />
              <Txt x={987} y={t + 49} s="Li_{2}S_{n}" fs={11.5} fill={c} anchor="middle" />
              <Txt x={1041} y={t + 49} s="Li_{2}S" fs={11.5} fill={c} anchor="middle" />
              <path d={`M1030,${t + 53} Q1016,${t + 78} 1001,${t + 56}`} fill="none" stroke={arcColor[i]} strokeWidth={1.3} markerEnd={`url(#ah-gray${i})`} />
            </g>
          );
        })}
      </Stacked>
      <Txt x={930} y={826} s="Time (s)" fs={18} anchor="middle" />
      <Txt x={783} y={681} s="Current (mA)" fs={18} anchor="middle" rot />
      <Letter x={742} y={583} s="i" />
    </g>
  );
}

function PanelJ() {
  const b = [58, 323, 855, 1069];
  const x = d3.scaleLinear().domain([1.6, 2.9]).range([b[0], b[1]]);
  const y = d3.scaleLinear().domain([-5, 5]).range([b[3], b[2]]);
  const loop = d3.line<Pt>().x(d => x(d[0])).y(d => y(d[1])).curve(d3.curveCatmullRomClosed.alpha(0.5));
  const ups = [jUpN4, jUpN3C, jUpN2C2];
  const los = [jLoN4, jLoN3C, jLoN2C2];
  const pts = (i: number) => [...zip(jUpV, ups[i]), ...zip(jLoV, los[i]).reverse()];
  return (
    <g>
      <g clipPath="url(#clip-j)">
        {[2, 1, 0].map(i => <path key={i} d={loop(pts(i))!} fill={COL[i].fill} fillOpacity={0.8} stroke={COL[i].line} strokeWidth={1} />)}
        {jPeakMarks.map((m, k) => <line key={k} x1={x(m[0])} x2={x(m[0])} y1={y(m[1])} y2={y(m[2])} stroke="#a5a5a5" strokeWidth={1} strokeDasharray="3 2" />)}
      </g>
      <Frame b={b} />
      <Axis scale={x} orient="bottom" x={0} y={b[3]} ticks={d3.range(1.6, 2.81, 0.2)} minor={d3.range(1.7, 2.9, 0.2)} fmt={f1} />
      <Axis scale={y} orient="left" x={b[0]} y={0} ticks={[-3, 0, 3]} minor={[-4.5, -1.5, 1.5, 4.5]} fmt={f1} />
      <Legend x={67} y={868} dy={20} kind="patch" tx={93} w={23} />
      <Txt x={237} y={879} s="Peak Ⅲ" fs={13} />
      <Txt x={208} y={1002} s="Peak Ⅰ" fs={13} />
      <Txt x={82} y={1037} s="Peak Ⅱ" fs={13} />
      <Txt x={315} y={1058} s="0.5 mV s^{-1}" fs={13} anchor="end" />
      <Txt x={190} y={1107} s="Voltage (V)" fs={18} anchor="middle" />
      <Txt x={21} y={962} s="Current (mA)" fs={18} anchor="middle" rot />
      <Letter x={7} y={853} s="j" />
    </g>
  );
}

function PanelK() {
  const b = [432, 695, 855, 1067];
  const x = d3.scaleBand<string>().domain(kPeaks).range([b[0], b[1]]).paddingInner(0.2).paddingOuter(0.1);
  const xs = d3.scaleBand<number>().domain([0, 1, 2]).range([0, x.bandwidth()]);
  const y = d3.scaleLinear().domain([0, 6]).range([b[3], b[2]]);
  const sets = [kN4, kN3C, kN2C2];
  return (
    <g>
      {kPeaks.map((p, g) => sets.map((s, i) => (
        <rect key={p + i} x={x(p)! + xs(i)!} y={y(s[g])} width={xs.bandwidth()} height={y(0) - y(s[g])} fill={`url(#bar-${i})`} />
      )))}
      <Frame b={b} />
      <Axis scale={x} orient="bottom" x={0} y={b[3]} size={0} pad={11} />
      <Axis scale={y} orient="left" x={b[0]} y={0} ticks={[0, 2.5, 5]} minor={[1.25, 3.75]} fmt={f1} />
      <Legend x={442} y={869} dy={19.5} kind="bar" tx={472} w={21} />
      <Txt x={398} y={961} s="D_{Li}^{+} (10^{−8} cm^{−2} s^{−1})" fs={18} anchor="middle" rot />
      <Letter x={381} y={861} s="k" />
    </g>
  );
}

function PanelL() {
  const b = [795, 1057, 855, 1067];
  const x = d3.scalePoint<string>().domain(lVoltage).range([b[0], b[1]]).padding(0.5);
  const y = d3.scaleLinear().domain([0.45, 0.78]).range([b[3], b[2]]);
  const line = d3.line<number>().x((_d, i) => x(lVoltage[i])!).y(d => y(d)).curve(d3.curveCatmullRom.alpha(0.5));
  const sets = [lN4, lN3C, lN2C2];
  return (
    <g>
      <g clipPath="url(#clip-l)">
        {[2, 1, 0].map(i => (
          <g key={i}>
            <path d={line(sets[i])!} fill="none" stroke={COL[i].dash} strokeWidth={3.2} />
            {sets[i].map((v, k) => <circle key={k} cx={x(lVoltage[k])!} cy={y(v)} r={6.8} fill={`url(#sph-${i})`} />)}
          </g>
        ))}
      </g>
      <Frame b={b} />
      <Axis scale={x} orient="bottom" x={0} y={b[3]} size={0} pad={10} />
      <Axis scale={y} orient="left" x={b[0]} y={0} ticks={[0.5, 0.6, 0.7]} minor={[0.55, 0.65, 0.75]} fmt={f1} />
      <Legend x={931} y={1008} dy={20} kind="lsphere" tx={957} w={22} />
      <Txt x={759} y={961} s="E_{a} (eV)" fs={18} anchor="middle" rot />
      <Letter x={746} y={858} s="l" />
    </g>
  );
}

export default function App() {
  return (
    <svg width={1080} height={1115} viewBox="0 0 1080 1115" style={{ position: 'absolute', left: 0, top: 0, display: 'block' }}>
      <rect width={1080} height={1115} fill="#ffffff" />
      <Defs />
      <PanelA />
      <PanelB />
      <PanelC />
      <PanelD />
      <PanelE />
      <PanelF />
      <PanelG />
      <PanelH />
      <PanelI />
      <PanelJ />
      <PanelK />
      <PanelL />
    </svg>
  );
}
